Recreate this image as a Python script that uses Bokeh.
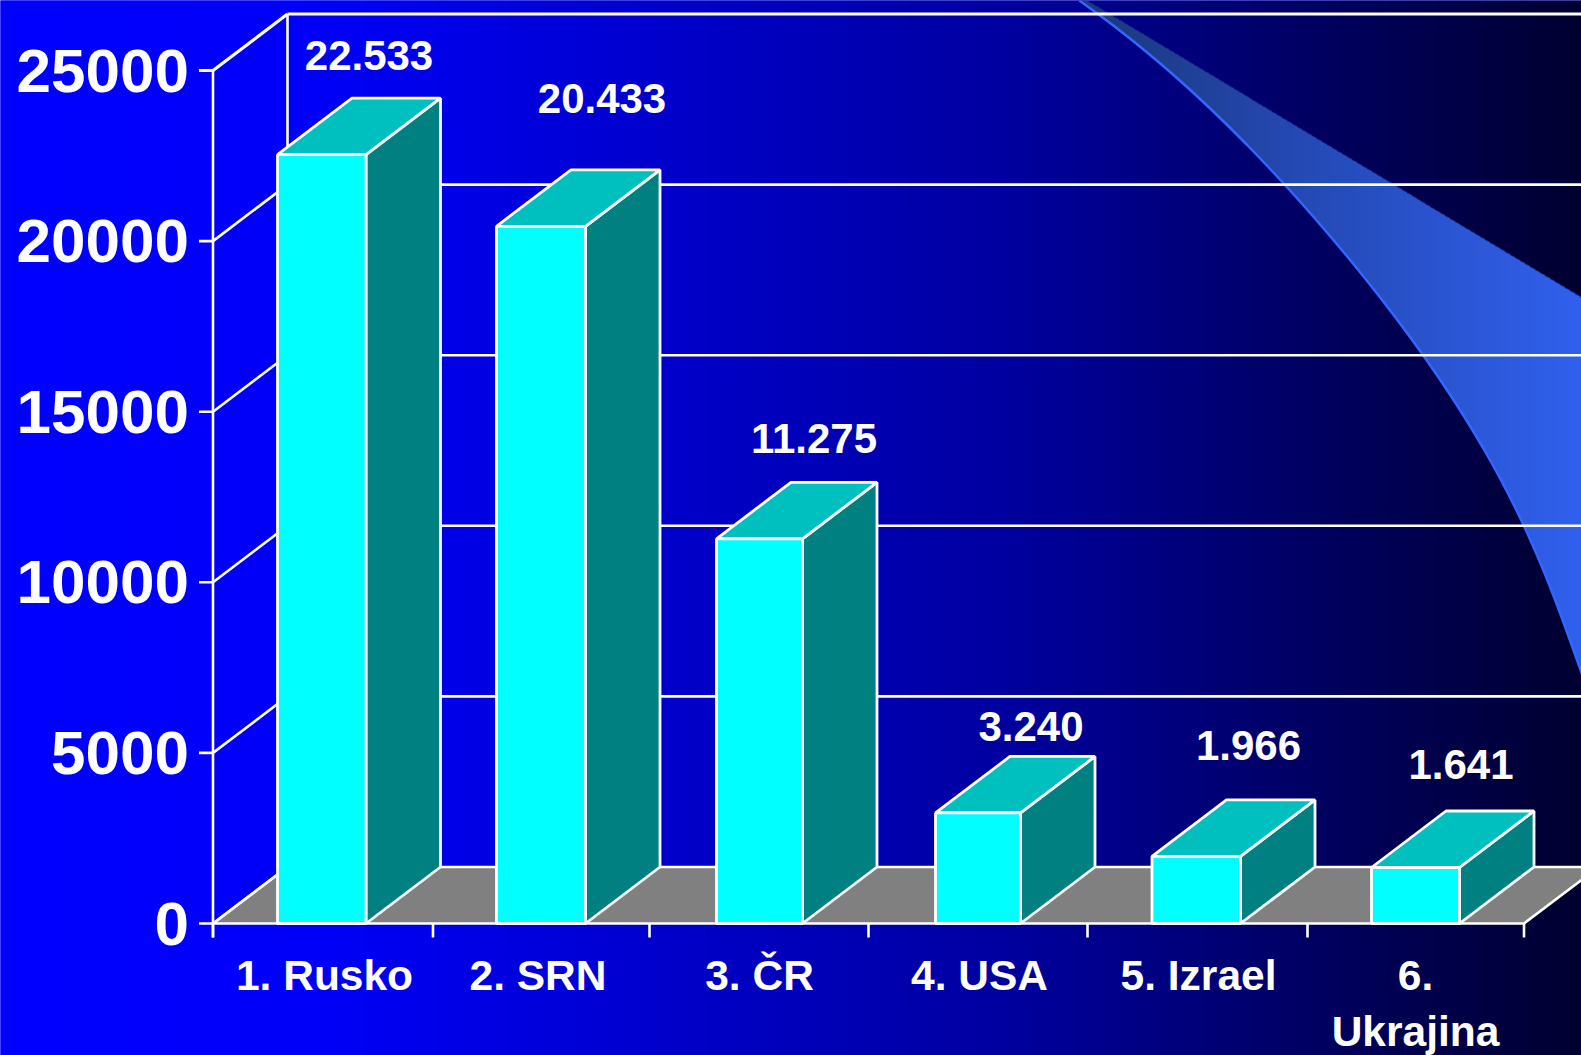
import numpy as np
from bokeh.core.properties import value
from bokeh.embed import file_html
from bokeh.models import Range1d
from bokeh.plotting import figure
from bokeh.resources import INLINE

categories = ["1. Rusko", "2. SRN", "3. ČR", "4. USA", "5. Izrael", ["6.", "Ukrajina"]]
values = [22533, 20433, 11275, 3240, 1966, 1641]
value_labels = ["22.533", "20.433", "11.275", "3.240", "1.966", "1.641"]
y_ticks = [0, 5000, 10000, 15000, 20000, 25000]
y_tick_labels = ["0", "5000", "10000", "15000", "20000", "25000"]

# Layout (pixels from the top left)
W, H = 1581, 1055
AXIS_X, ZERO_Y = 212.5, 923.0
PX_PER_UNIT = 170.6 / 5000
DEPTH_PX_X, DEPTH_PX_Y = 74.5, 56.5
tick_px = [212.5, 432.5, 649, 868, 1087, 1307, 1523.5]
bar_left_px = [277, 496, 716, 935, 1151.5, 1371]
bar_right_px = [365.5, 585, 802, 1020, 1240, 1459]
value_label_px = [368.5, 601.5, 813.5, 1030.5, 1248, 1460.5]
value_label_py = [55, 98, 437.5, 726, 745, 764]
category_label_px = [324, 537.5, 759, 979, 1198, 1415]
category_label_py = [975, 1031]


def xd(px):
    return np.asarray(px, dtype=float)


def yd(py):
    return (ZERO_Y - np.asarray(py, dtype=float)) / PX_PER_UNIT


DEPTH_Y = DEPTH_PX_Y / PX_PER_UNIT

p = figure(
    width=W, height=H,
    x_range=Range1d(0, W),
    y_range=Range1d(float(yd(H)), float(yd(0))),
    x_axis_type=None, y_axis_type=None,
    toolbar_location=None, output_backend="svg", min_border=0,
)
p.outline_line_color = None
p.grid.visible = False
p.background_fill_color = "#0000FF"
p.border_fill_color = "#0000FF"
p.styles = {"position": "absolute", "left": "0px", "top": "0px"}

# Background: horizontal gradient
stop_px = [0, 300, 500, 1000, 1300, 1581]
stop_blue = [255, 250, 225, 160, 100, 48]
M = 6
blue = np.interp(np.arange(-M, W + M), stop_px, stop_blue)
bg = np.zeros((1, W + 2 * M, 4), dtype=np.uint8)
bg[..., 2] = blue.astype(np.uint8)
bg[..., 3] = 255
bg_img = bg.view(dtype=np.uint32).reshape(1, W + 2 * M)
p.image_rgba(image=[bg_img], x=-M, y=float(yd(H + M)), dw=W + 2 * M, dh=float(yd(-M) - yd(H + M)))

# Ribbon in the upper right corner
edge_read_py = [0, 13, 100, 184, 220, 300, 356, 400, 525, 672]
edge_read_px = [1078, 1098, 1200, 1285, 1317, 1380, 1424, 1454, 1523, 1581]
upper_px = [1087, 1581]
upper_py = [0, 297]
edge_fit = np.polynomial.Polynomial.fit(edge_read_py, edge_read_px, 5)
rib_x0, rib_h = 1070, 680
rib_w = W - rib_x0
xs = np.arange(rib_x0, W) + 0.5
ys = np.arange(rib_h) + 0.5
X, Y = np.meshgrid(xs, ys)
mask = (Y >= np.interp(X, upper_px, upper_py)) & (X >= edge_fit(Y))
t = (X - 1078) / (1581 - 1078)
rib = np.zeros((rib_h, rib_w, 4), dtype=np.uint8)
rib[..., 0] = np.interp(t, [0, 0.4, 1], [26, 36, 48])
rib[..., 1] = np.interp(t, [0, 0.4, 1], [56, 72, 96])
rib[..., 2] = np.interp(t, [0, 0.4, 1], [120, 176, 238])
rib[..., 3] = np.where(mask, 255, 0)
rib_img = rib[::-1].view(dtype=np.uint32).reshape(rib_h, rib_w)
p.image_rgba(image=[rib_img], x=rib_x0, y=float(yd(rib_h)), dw=rib_w, dh=float(yd(0) - yd(rib_h)))
edge_y = np.arange(0, 680, 4.0)
p.line(edge_fit(edge_y), yd(edge_y), line_color="#3366FF", line_width=2.5)

WHITE = "#FFFFFF"
GRID_W, BAR_LINE_W = 2.6, 2.8

# Floor
floor_x = [AXIS_X, tick_px[-1], tick_px[-1] + DEPTH_PX_X, AXIS_X + DEPTH_PX_X]
p.patch(floor_x, [0, 0, DEPTH_Y, DEPTH_Y], fill_color="#808080", line_color=WHITE, line_width=GRID_W)

# Walls and gridlines
back_x = AXIS_X + DEPTH_PX_X
for tick in y_ticks:
    lw = 3.2 if tick == y_ticks[-1] else GRID_W
    p.line([AXIS_X - 14, AXIS_X, back_x], [tick, tick, tick + DEPTH_Y], line_color=WHITE, line_width=lw)
    if tick > 0:
        p.line([back_x, W + 4], [tick + DEPTH_Y, tick + DEPTH_Y], line_color=WHITE, line_width=lw)
p.line([AXIS_X, AXIS_X], [yd(937), y_ticks[-1]], line_color=WHITE, line_width=GRID_W)
p.line([back_x, back_x], [DEPTH_Y, y_ticks[-1] + DEPTH_Y], line_color=WHITE, line_width=GRID_W)

# x ticks
p.multi_line([[t, t] for t in tick_px], [[0, float(yd(937))] for _ in tick_px], line_color=WHITE, line_width=GRID_W)

# Bars: side, top, front
left = xd(bar_left_px)
right = xd(bar_right_px)
vals = np.array(values, dtype=float)
side_xs = [[r, r + DEPTH_PX_X, r + DEPTH_PX_X, r] for r in right]
side_ys = [[0, DEPTH_Y, v + DEPTH_Y, v] for v in vals]
top_xs = [[l, r, r + DEPTH_PX_X, l + DEPTH_PX_X] for l, r in zip(left, right)]
top_ys = [[v, v, v + DEPTH_Y, v + DEPTH_Y] for v in vals]
p.patches(side_xs, side_ys, fill_color="#008080", line_color=WHITE, line_width=BAR_LINE_W)
p.patches(top_xs, top_ys, fill_color="#00BFBF", line_color=WHITE, line_width=BAR_LINE_W)
p.quad(left=left, right=right, bottom=0, top=vals, fill_color="#00FFFF", line_color=WHITE, line_width=BAR_LINE_W)

FONT = value("Liberation Sans")

# y tick labels
p.text(x=[188.5] * len(y_ticks), y=y_ticks, text=y_tick_labels,
       text_align="right", text_baseline="middle", text_color=WHITE,
       text_font=FONT, text_font_style="bold", text_font_size="62px")

# value labels
p.text(x=value_label_px, y=yd(value_label_py), text=value_labels,
       text_align="center", text_baseline="middle",
       text_color=WHITE, text_font=FONT, text_font_style="bold", text_font_size="42px")

# category labels
cat_x, cat_y, cat_t = [], [], []
for cx, name in zip(category_label_px, categories):
    lines = name if isinstance(name, list) else [name]
    for py, line in zip(category_label_py, lines):
        cat_x.append(cx)
        cat_y.append(float(yd(py)))
        cat_t.append(line)
p.text(x=cat_x, y=cat_y, text=cat_t, text_align="center", text_baseline="middle",
       text_color=WHITE, text_font=FONT, text_font_style="bold", text_font_size="42.5px")

open("out.html", "w").write(file_html(p, INLINE))
